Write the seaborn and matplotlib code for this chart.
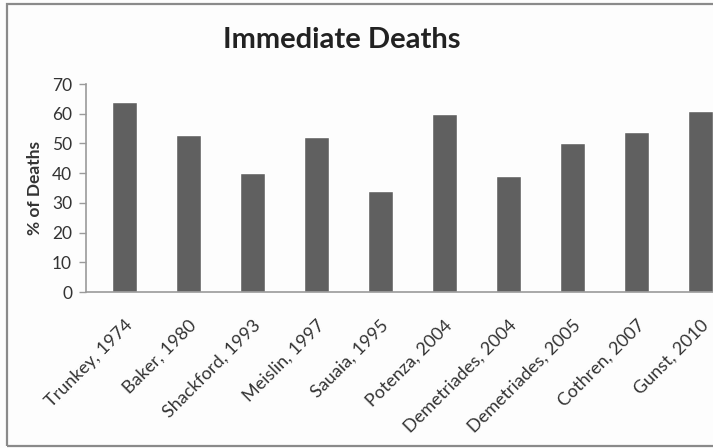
import matplotlib
matplotlib.use("Agg")
import matplotlib.pyplot as plt
from matplotlib.patches import Rectangle
import seaborn as sns
import pandas as pd

studies = ["Trunkey, 1974", "Baker, 1980", "Shackford, 1993", "Meislin, 1997",
           "Sauaia, 1995", "Potenza, 2004", "Demetriades, 2004",
           "Demetriades, 2005", "Cothren, 2007", "Gunst, 2010"]
pct_deaths = [64, 53, 40, 52, 34, 60, 39, 50, 54, 61]
y_ticks = [0, 10, 20, 30, 40, 50, 60, 70]

df = pd.DataFrame({"study": studies, "pct": pct_deaths})

sns.set_theme(style="white")
plt.rcParams["font.family"] = ["Lato", "DejaVu Sans"]

fig = plt.figure(figsize=(7.13, 4.48), dpi=100)
fig.patch.set_facecolor("#fdfdfd")

# outer chart frame
fig.patches.append(Rectangle((7 / 713, 1 - 446 / 448), 1.2, (446 - 4) / 448,
                             transform=fig.transFigure, fill=False,
                             edgecolor="#8a8a8a", linewidth=1.6))

ax = fig.add_axes([86 / 713, 1 - 292 / 448, 1 - 86 / 713, (292 - 84) / 448])
ax.set_facecolor("#fdfdfd")

sns.barplot(data=df, x="study", y="pct", color="#606060", saturation=1,
            width=0.39, ax=ax)

ax.set_ylim(0, 70)
ax.set_xlim(-0.6, 9.2)
ax.set_yticks(y_ticks)
ax.tick_params(axis="y", which="both", left=True, length=5, width=1,
               color="#9a9a9a", labelsize=12.5, labelcolor="#333333", pad=5)
ax.tick_params(axis="x", bottom=False, labelsize=13, labelcolor="#333333",
               pad=12)
plt.setp(ax.get_xticklabels(), rotation=45, ha="right",
         rotation_mode="anchor")

for side in ["top", "right"]:
    ax.spines[side].set_visible(False)
for side in ["left", "bottom"]:
    ax.spines[side].set_color("#9a9a9a")
    ax.spines[side].set_linewidth(1.2)

ax.set_xlabel("")
ax.set_ylabel("% of Deaths", fontsize=12.5, fontweight="bold",
              color="#333333")
ax.yaxis.set_label_coords(-0.068, 0.5)

fig.text(342 / 713, 1 - 40 / 448, "Immediate Deaths", ha="center",
         va="center", fontsize=21, fontweight="bold", color="#222222")

fig.savefig("out.png", dpi=100, facecolor=fig.get_facecolor())
